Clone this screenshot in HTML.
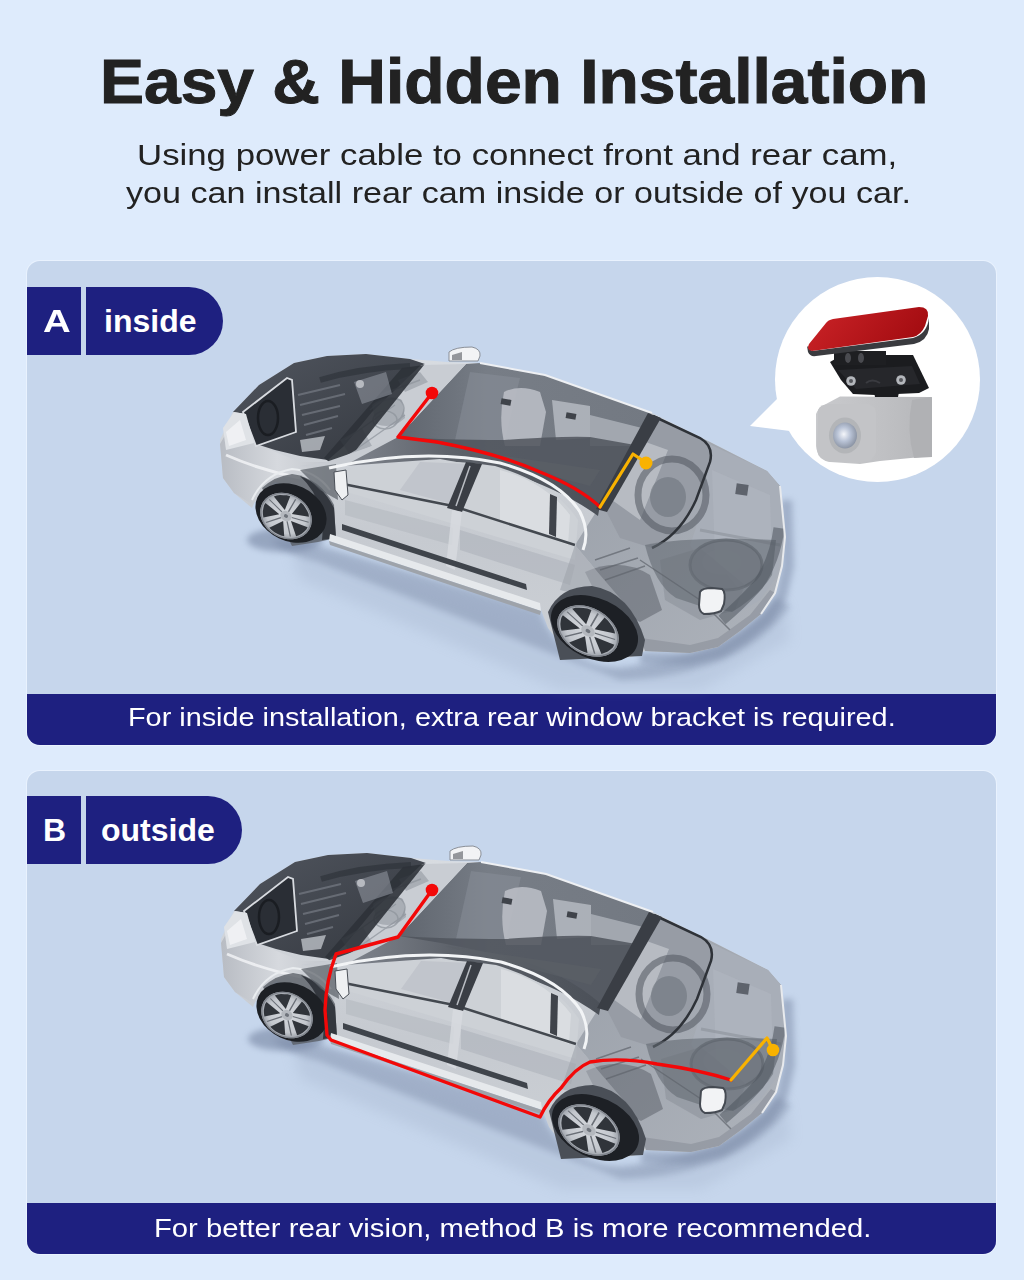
<!DOCTYPE html>
<html><head><meta charset="utf-8">
<style>
*{margin:0;padding:0;box-sizing:border-box}
html,body{width:1024px;height:1280px;overflow:hidden;background:#DEEBFC;font-family:"Liberation Sans",sans-serif}
.abs{position:absolute}
.t{position:absolute;white-space:nowrap;transform-origin:0 0}
.panel{position:absolute;left:27px;width:969px;background:#C6D6EC;border-radius:13px;overflow:hidden;box-shadow:0 0 0 1px rgba(240,246,255,0.6)}
.banner{position:absolute;left:0;bottom:0;width:969px;height:51px;background:#1E2080}
.navy{background:#1E2080}
</style></head><body>
<div id="title" class="t" style="left:100px;top:45px;transform:scaleX(1.047);font-size:63px;font-weight:bold;color:#222;-webkit-text-stroke:1px #222">Easy &amp; Hidden Installation</div>
<div id="sub1" class="t" style="left:137px;top:138px;transform:scaleX(1.16);font-size:30px;color:#222">Using power cable to connect front and rear cam,</div>
<div id="sub2" class="t" style="left:126px;top:176px;transform:scaleX(1.137);font-size:30px;color:#222">you can install rear cam inside or outside of you car.</div>

<div class="panel" style="top:261px;height:484px">
  <div class="banner"></div>
</div>
<div class="panel" style="top:771px;height:483px">
  <div class="banner"></div>
</div>


<svg class="abs" style="left:0;top:0" width="1024" height="1280" viewBox="0 0 1024 1280">
<defs>
 <filter id="bl8" x="-50%" y="-50%" width="200%" height="200%"><feGaussianBlur stdDeviation="7"/></filter>
 <filter id="bl3" x="-50%" y="-50%" width="200%" height="200%"><feGaussianBlur stdDeviation="3"/></filter>
 <filter id="bl1" x="-20%" y="-20%" width="140%" height="140%"><feGaussianBlur stdDeviation="0.8"/></filter>
 <linearGradient id="gHood" x1="0" y1="0" x2="1" y2="1">
  <stop offset="0" stop-color="#50555e"/><stop offset="1" stop-color="#34383f"/>
 </linearGradient>
 <linearGradient id="gSide" x1="0" y1="0" x2="0" y2="1">
  <stop offset="0" stop-color="#d8dce1"/><stop offset="0.6" stop-color="#c6cad0"/><stop offset="1" stop-color="#ccd0d5"/>
 </linearGradient>
 <linearGradient id="gRoof" x1="0" y1="0" x2="1" y2="0">
  <stop offset="0" stop-color="#5f656e"/><stop offset="0.35" stop-color="#777d86"/><stop offset="1" stop-color="#737982"/>
 </linearGradient>
 <linearGradient id="gTrunk" x1="0" y1="0" x2="1" y2="1">
  <stop offset="0" stop-color="#9aa0a9"/><stop offset="1" stop-color="#aeb3bb"/>
 </linearGradient>
 <linearGradient id="gFender" x1="0" y1="0" x2="1" y2="0">
  <stop offset="0" stop-color="#b8bcc3"/><stop offset="0.5" stop-color="#d6d9de"/><stop offset="1" stop-color="#c0c4ca"/>
 </linearGradient>
 <linearGradient id="gBand" x1="0" y1="0" x2="1" y2="0"><stop offset="0" stop-color="#858a93"/><stop offset="0.45" stop-color="#5d626a"/><stop offset="1" stop-color="#4b5058"/></linearGradient>
 <radialGradient id="gRim" cx="0.5" cy="0.5" r="0.5">
  <stop offset="0" stop-color="#d6d9de"/><stop offset="0.75" stop-color="#c3c7cd"/><stop offset="1" stop-color="#9a9fa7"/>
 </radialGradient>
 <g id="rimU">
  <circle r="100" fill="url(#gRim)"/>
  <path d="M25,8 L90,-5 L90,8 L87,21 L83,34 L77,46 L70,57Z M0,26 L32,84 L20,88 L7,90 L-7,90 L-20,88 L-32,84Z M-25,8 L-70,57 L-77,46 L-83,34 L-87,21 L-90,8 L-90,-5Z M-15,-21 L-75,-49 L-68,-60 L-58,-69 L-47,-76 L-36,-83 L-23,-87Z M15,-21 L23,-87 L36,-83 L47,-76 L58,-69 L68,-60 L75,-49Z" fill="#30343a"/>
  <path d="M13,18 L52,71 M-13,18 L-52,71 M-21,-7 L-84,-27 M-0,-22 L-0,-88 M21,-7 L84,-27" stroke="#6a6f77" stroke-width="5"/>
  <circle r="22" fill="#b4b8be"/>
  <circle r="8" fill="#6f747c"/>
  <circle r="97" fill="none" stroke="#80858d" stroke-width="5"/>
 </g>
 <g id="car">
  <!-- shadow -->
  <path d="M300,540 L540,610 Q556,664 620,668 Q730,655 776,598 L790,606 Q740,676 620,680 L318,562 Q290,556 270,540 Z" fill="#7b8aa6" opacity="0.45" filter="url(#bl3)"/>
  <path d="M290,545 L540,618 L600,670 L700,665 L785,600 L790,640 L700,690 L560,690 L300,580 Z" fill="#8d9bb5" opacity="0.2" filter="url(#bl8)"/>
  <ellipse cx="285" cy="540" rx="38" ry="12" fill="#6f7f9c" opacity="0.55" filter="url(#bl3)"/>
  <path d="M786,500 L788,566 L781,596 L766,619 L744,637 L720,652 L690,659 L640,658" fill="none" stroke="#7a89a5" stroke-width="12" opacity="0.5" filter="url(#bl3)"/>
  <!-- body silhouette -->
  <path d="M220,440 L233,412 L259,385 L294,363 L327,356 L366,354 L410,359 L447,362 L480,363 L545,375 L652,413 L708,441 L767,471 L780,486 L785,537 L782,566 L775,593 L761,614 L740,631 L718,647 L690,653 L645,651 L632,657 L600,660 L565,650 L548,628 L540,607 L330,537 L318,520 L300,490 L275,482 L254,503 L252,508 L234,493 L223,478 Z" fill="url(#gSide)"/>
  <!-- front fender / bumper silver -->
  <path d="M220,444 L228,430 L256,444 L300,462 L335,462 L332,537 L320,520 L310,490 L285,478 L262,485 L253,505 L234,493 L223,478 Z" fill="url(#gFender)"/>
  <path d="M226,455 Q260,470 300,478" stroke="#f4f5f7" stroke-width="3" fill="none" opacity="0.8"/>
  <!-- rear section -->
  <path d="M596,512 L653,415 L708,441 L767,471 L780,486 L785,537 L782,566 L775,593 L761,614 L740,631 L718,647 L690,653 L645,651 L630,610 L600,575 L575,545 Z" fill="url(#gTrunk)"/>
  <!-- trunk lid (right of rear window) -->
  <path d="M707,443 L767,471 L780,486 L784,530 L778,575 L760,600 L735,615 L720,600 Q705,570 690,545 Q700,520 708,470 Z" fill="#a8aeb8"/>
  <path d="M712,470 L770,495 L772,560 L740,590 L715,560 Z" fill="#b1b6bf" opacity="0.6"/><path d="M700,530 L780,545" stroke="#8c929b" stroke-width="3" opacity="0.6"/>
  <rect x="736" y="484" width="12" height="11" fill="#5e636c" transform="rotate(8 742 489)"/>
  <!-- rear window glass -->
  <path d="M604,507 L653,416 L700,438 Q714,446 710,462 L696,500 Q680,535 652,548 L620,538 Z" fill="#979ca5"/>
  <path d="M612,500 L640,440 L668,450 L640,520 Z" fill="#c5c9cf" opacity="0.7"/>
  <ellipse cx="672" cy="495" rx="34" ry="36" fill="none" stroke="#50555e" stroke-width="7" opacity="0.55"/>
  <ellipse cx="668" cy="497" rx="18" ry="20" fill="#6e747d" opacity="0.6"/>
  <path d="M653,416 L700,438 Q714,446 710,462 L696,500 Q680,535 652,548" fill="none" stroke="#2e3238" stroke-width="2.5"/>
  <!-- spare tire lower -->
  <ellipse cx="726" cy="565" rx="36" ry="25" fill="#5f656e" opacity="0.45"/><ellipse cx="726" cy="565" rx="36" ry="25" fill="none" stroke="#4f545c" stroke-width="3" opacity="0.6"/><ellipse cx="722" cy="562" rx="20" ry="13" fill="#8b919a" opacity="0.5"/>
  <path d="M660,560 L700,548 L745,585 L735,610 L700,620 L665,600 Z" fill="#7b8189" opacity="0.35"/>
  <path d="M645,545 Q690,536 776,540 L772,575 Q760,595 732,612 L700,606 L676,598 Q655,585 645,545 Z" fill="#646a73" opacity="0.6"/>
  <path d="M585,572 Q620,556 650,575 L662,610 L640,622 L600,602 Z" fill="#50555e" opacity="0.45"/>
  <!-- roof glass -->
  <path d="M466,364 L480,363 L545,375 L652,413 L600,507 Q560,478 500,462 L440,452 L398,437 Z" fill="url(#gRoof)"/>
  <!-- seats lighter -->
  <path d="M470,372 L520,378 L505,440 L455,440 Z" fill="#8a9099" opacity="0.5"/>
  <path d="M504,392 Q520,384 540,392 L546,412 L540,446 L505,446 Q498,420 504,392 Z" fill="#b9bdc4" opacity="0.9"/>
  <path d="M552,400 L590,406 L590,438 L556,440 Z" fill="#b5bac1" opacity="0.85"/>
  <path d="M590,415 L642,428 L636,446 L590,446 Z" fill="#aeb3ba" opacity="0.8"/>
  <rect x="501" y="399" width="10" height="6" fill="#3f434a" transform="rotate(10 506 402)"/>
  <rect x="566" y="413" width="10" height="6" fill="#3f434a" transform="rotate(10 571 416)"/>
  <path d="M398,437 Q440,440 504,440 Q560,436 590,437 L635,445 L603,507 Q560,478 500,462 L440,452 Z" fill="#50555d" opacity="0.85"/>
  <path d="M480,363 L545,375 L652,413" fill="none" stroke="#eef0f3" stroke-width="2"/>
  <!-- roof side dark band (below glass, above side windows) -->
  <path d="M398,437 L440,444 L500,456 Q560,470 600,505 L598,516 Q560,488 500,470 L440,459 L330,467 Z" fill="url(#gBand)"/>
  <path d="M444,447 L600,470 L590,486 L500,462 Z" fill="#5b6068" opacity="0.6"/>
  <!-- C pillar band -->
  <path d="M648,413 L661,418 L607,512 L596,509 Z" fill="#3a3e45"/>
  <!-- hood / engine bay -->
  <path d="M233,412 L259,385 L294,363 L327,356 L366,354 L410,359 L425,364 L420,366 L372,412 L344,446 L328,460 L300,456 L275,450 L256,444 L246,414 Z" fill="url(#gHood)"/>
  <!-- radiator frame -->
  <path d="M243,412 L287,378 L292,380 L296,432 L256,446 Z" fill="#2a2e35"/>
  <path d="M243,412 L287,378 L292,380 L296,432 L256,446 Z" fill="none" stroke="#d8dbe0" stroke-width="1.8"/>
  <ellipse cx="268" cy="418" rx="10" ry="17" fill="none" stroke="#1a1d22" stroke-width="2.5"/>
  <!-- engine block lines -->
  <g stroke="#70757e" stroke-width="2" opacity="0.8">
   <path d="M298,395 L340,385 M300,405 L345,394 M302,415 L340,406 M304,425 L338,416 M306,435 L332,428"/>
  </g>
  <path d="M300,440 L325,436 L320,450 L302,452 Z" fill="#cfd3d8" opacity="0.7"/>
  <path d="M320,380 Q360,368 410,366" stroke="#2c3037" stroke-width="6" fill="none" opacity="0.6"/>
  <!-- windshield light region -->
  <path d="M422,365 L466,364 L398,437 L336,462 L354,448 Z" fill="#c9cdd3"/>
  <g fill="#8f959e" opacity="0.55">
   <path d="M372,405 Q388,392 402,400 L405,418 Q392,430 376,424 Z"/>
   <path d="M340,440 L362,428 L372,446 L350,455 Z"/>
   <path d="M398,380 L420,372 L428,382 L405,392 Z"/>
  </g>
  <g stroke="#8d939b" stroke-width="1.5" fill="none" opacity="0.7">
   <path d="M370,410 Q385,395 400,400 Q410,410 395,425"/>
   <path d="M345,440 L395,405 M355,450 L405,415 M380,395 L420,380"/>
   <ellipse cx="385" cy="420" rx="12" ry="9"/>
  </g>
  <!-- A pillar/cowl dark band -->
  <path d="M402,368 L424,365 L356,450 L332,464 L324,458 Z" fill="#2e3238" opacity="0.9"/>
  <path d="M354,382 L386,372 L392,394 L362,404 Z" fill="#8d939c" opacity="0.6"/><circle cx="360" cy="384" r="4" fill="#d5d8dd" opacity="0.7"/>
  <!-- front lower engine/light area below windshield -->
  <path d="M300,466 L326,462 L398,437 L340,468 Z" fill="#c8ccd2"/>
  <!-- headlight / nose -->
  <path d="M223,428 L234,412 L246,414 L254,443 L226,450 Z" fill="#dfe2e6"/>
  <path d="M226,432 L240,420 L246,440 L229,446 Z" fill="#f3f4f6" opacity="0.8"/>
  <!-- front wheel arch dark -->
  <path d="M262,488 Q275,476 292,474 Q320,478 334,505 L336,538 L318,542 L292,546 Z" fill="#5a5f67" opacity="0.8"/><path d="M300,476 Q322,484 334,508 L336,538 L322,540 Q326,500 300,476 Z" fill="#33373e"/><path d="M252,500 Q264,474 292,469 Q316,471 330,490" fill="none" stroke="#e9ecef" stroke-width="2"/>
  <path d="M300,470 L336,464 L338,500 L320,490 Z" fill="#5a5f67" opacity="0.7"/>
  <!-- side window light area -->
  <path d="M336,472 Q420,454 495,466 Q555,484 578,520 L575,560 L340,490 Z" fill="#cdd1d6"/>
  <path d="M420,462 L470,464 L455,505 L400,490 Z" fill="#b9bdc4" opacity="0.6"/>
  <path d="M500,470 Q545,482 570,515 L568,545 L500,520 Z" fill="#dfe2e6" opacity="0.7"/>
  <!-- side window top white line -->
  <path d="M329,468 Q420,447 500,463 Q560,480 580,512 Q590,532 583,550" fill="none" stroke="#f2f4f6" stroke-width="3"/>
  <!-- beltline -->
  <path d="M343,484 L453,506 L575,545" fill="none" stroke="#43484f" stroke-width="2.5"/>
  <!-- B pillar -->
  <path d="M466,462 L482,464 L462,512 L447,508 Z" fill="#3a3e45"/>
  <path d="M470,466 L456,506" stroke="#b9bdc3" stroke-width="1.5"/>
  <path d="M550,494 L557,497 L556,537 L549,534 Z" fill="#3f434a"/>
  <!-- mirror -->
  <path d="M334,472 L346,470 L348,495 L342,500 L335,490 Z" fill="#eef0f2" stroke="#4a4f57" stroke-width="1"/>
  <!-- door panels -->
  <path d="M345,500 L453,528 L452,545 L345,515 Z" fill="#b4b9c0" opacity="0.6"/>
  <path d="M460,530 L575,565 L570,585 L460,550 Z" fill="#aeb3ba" opacity="0.6"/>
  <path d="M452,510 L462,512 L455,570 L446,566 Z" fill="#d8dbe0" opacity="0.8"/>
  <!-- door molding dark stripe -->
  <path d="M342,524 L526,584 L527,590 L342,530 Z" fill="#3f444b"/>
  <!-- sill highlight -->
  <path d="M330,534 L540,603 L541,611 L329,541 Z" fill="#e6e9ec"/><path d="M329,541 L541,611 L540,615 L330,545 Z" fill="#9ea3aa"/>
  <!-- rear quarter / wheel area below rear window -->
  <path d="M575,545 L600,575 L630,610 L640,655 L600,600 L560,590 Z" fill="#9fa4ab" opacity="0.6"/>
  <g stroke="#60656d" stroke-width="1.5" opacity="0.7" fill="none">
   <path d="M595,560 L630,548 M600,570 L638,558 M605,580 L645,566"/>
   <path d="M640,560 L700,600 L730,630"/>
  </g>
  <!-- tail light -->
  <path d="M700,592 Q702,588 712,588 L722,589 Q726,592 724,604 L721,611 Q715,614 704,614 Q699,612 699,605 Z" fill="#f2f3f5" stroke="#454a52" stroke-width="2"/>
  <!-- rear bumper -->
  <path d="M641,638 L690,645 L718,638 L750,615 L770,590 L775,593 L761,614 L740,631 L718,647 L690,653 L645,651 Z" fill="#8a9099" opacity="0.6"/><path d="M779,528 Q775,560 758,585 Q740,605 722,620" stroke="#4f555e" stroke-width="11" fill="none" opacity="0.55"/>
  <path d="M780,486 L785,537 L782,566 L775,593 L761,614" fill="none" stroke="#e8eaed" stroke-width="2"/>
  <!-- rear wheel arch -->
  <path d="M548,612 Q560,586 592,586 Q630,592 645,640 L642,656 L560,660 Z" fill="#4a4f57"/>
  <ellipse cx="0" cy="0" rx="37" ry="28" transform="translate(291,513) rotate(25)" fill="#1d2025"/>
  <use href="#rimU" transform="translate(286,516) rotate(30) scale(0.27,0.22)"/>
  <ellipse cx="0" cy="0" rx="46" ry="30" transform="translate(594.5,628.5) rotate(25)" fill="#1d2025"/>
  <use href="#rimU" transform="translate(588,631) rotate(30) scale(0.33,0.23)"/>
  <!-- roof camera -->
  <path d="M449,361 L449,352 Q455,347 472,347 Q481,349 480,356 L478,361 Z" fill="#f2f3f5" stroke="#8a8f97" stroke-width="1"/>
  <path d="M452,355 L462,352 L462,360 L452,360 Z" fill="#55595f" opacity="0.6"/>
 </g>
</defs>
<use href="#car"/>
<!-- cable A -->
<g fill="none" stroke-linejoin="round" stroke-linecap="round">
 <path d="M432,393 L398,437 L437,442 Q500,454 540,472 Q580,488 600,507" stroke="#f30808" stroke-width="3.4"/>
 <path d="M600,507 L633,454 L645,462" stroke="#f9b200" stroke-width="3.2"/>
</g>
<circle cx="432" cy="393" r="6.3" fill="#f30808"/>
<circle cx="646" cy="463" r="6.5" fill="#f9b200"/>
<use href="#car" transform="translate(1,499)"/>
<g fill="none" stroke-linejoin="round" stroke-linecap="round">
 <path d="M432,890 L398,937 L336,954 Q326,980 325,1010 L327,1035 L331,1040 L540,1117 Q548,1100 561,1088 Q575,1068 590,1062 Q620,1057 657,1064 Q700,1070 731,1080" stroke="#f30808" stroke-width="3.4"/>
 <path d="M731,1080 L767,1038 L773,1050" stroke="#f9b200" stroke-width="3.2"/>
</g>
<circle cx="432" cy="890" r="6.3" fill="#f30808"/>
<circle cx="773" cy="1050" r="6.3" fill="#f9b200"/>
</svg>
<svg class="abs" style="left:740px;top:260px" width="250" height="240" viewBox="740 260 250 240">
 <defs>
  <linearGradient id="gPad" x1="0" y1="0" x2="1" y2="0.3">
   <stop offset="0" stop-color="#cc2428"/><stop offset="1" stop-color="#a50d12"/>
  </linearGradient>
  <linearGradient id="gCam" x1="0" y1="0" x2="1" y2="0">
   <stop offset="0" stop-color="#c9cacd"/><stop offset="0.6" stop-color="#bfc0c3"/><stop offset="1" stop-color="#b5b6b9"/>
  </linearGradient>
  <radialGradient id="gLens" cx="0.45" cy="0.45" r="0.55">
   <stop offset="0" stop-color="#f4f6fa"/><stop offset="0.5" stop-color="#b9c3d6"/><stop offset="1" stop-color="#8d96a6"/>
  </radialGradient>
 </defs>
 <circle cx="877.5" cy="379.5" r="102.5" fill="#fff"/>
 <path d="M778,398 L750,426 L790,431 Z" fill="#fff"/>
 <!-- camera body -->
 <path d="M840,396.5 L931,397 L931,456 L880,461 L860,464 L830,462 Q817,458 816,446 L816,414 Q818,408 826,404 Z" fill="url(#gCam)"/>
 <path d="M912,400 L932,397 L932,457 L914,458 Q906,430 912,400 Z" fill="#b0b1b4"/>
 <path d="M818,410 Q820,404 830,404 L868,404 Q876,406 876,414 L876,452 Q874,462 862,462 L830,462 Q818,460 817,450 Z" fill="#c3c4c7"/>
 <ellipse cx="845" cy="435.5" rx="16" ry="18" fill="#b3b5b8"/>
 <ellipse cx="845" cy="435.5" rx="12" ry="13" fill="url(#gLens)"/>
 <!-- black bracket -->
 <path d="M830,362 L842,355 L913,355 L929,388 L919,393 L875,395 L853,394 L841,380 Z" fill="#1b1c1f"/>
 <path d="M838,370 L912,366 L920,384 L856,389 Z" fill="#26272b"/>
 <path d="M874,392 L899,392 L898,397 L875,397 Z" fill="#1b1c1f"/>
 <rect x="834" y="351" width="52" height="14" fill="#1e1f22"/>
 <ellipse cx="848" cy="358" rx="3" ry="5" fill="#4a4b50"/><ellipse cx="861" cy="358" rx="3" ry="5" fill="#4a4b50"/>
 <circle cx="851" cy="381" r="4.8" fill="#b4b7bc"/><circle cx="851" cy="381" r="2" fill="#55575c"/>
 <circle cx="901" cy="380" r="4.8" fill="#b4b7bc"/><circle cx="901" cy="380" r="2" fill="#55575c"/>
 <path d="M866,383 Q872,378 880,383" stroke="#3a3b40" stroke-width="2" fill="none"/>
 <!-- pad edge -->
 <path d="M807,346 L808,352 Q810,357 816,356 L914,344 Q927,341 929,329 L929,318 Q927,334 913,338 L812,351 Z" fill="#3a3b3f"/>
 <!-- red pad -->
 <path d="M812,351 L913,337 Q921,335 925,326 L928,316 Q929,307 919,307 L833,319 Q828,320 826,323 L809,344 Q806,350 812,351 Z" fill="url(#gPad)"/>
</svg>

<!-- badges -->
<div class="abs navy" style="left:27px;top:287px;width:54px;height:68px"></div>
<div class="abs navy" style="left:86px;top:287px;width:137px;height:68px;border-radius:0 34px 34px 0"></div>
<div class="abs navy" style="left:27px;top:796px;width:54px;height:68px"></div>
<div class="abs navy" style="left:86px;top:796px;width:156px;height:68px;border-radius:0 34px 34px 0"></div>

<div id="bA" class="t" style="left:43px;top:303px;transform:scaleX(1.2);font-size:32px;font-weight:bold;color:#fff">A</div>
<div id="inside" class="t" style="left:104px;top:303px;font-size:32px;font-weight:bold;color:#fff">inside</div>
<div id="bB" class="t" style="left:43px;top:812px;font-size:32px;font-weight:bold;color:#fff">B</div>
<div id="outside" class="t" style="left:101px;top:812px;font-size:32px;font-weight:bold;color:#fff">outside</div>

<div id="capA" class="t" style="left:128px;top:702px;transform:scaleX(1.109);font-size:26px;color:#fff">For inside installation, extra rear window bracket is required.</div>
<div id="capB" class="t" style="left:154px;top:1213px;transform:scaleX(1.123);font-size:26px;color:#fff">For better rear vision, method B is more recommended.</div>

</body></html>
